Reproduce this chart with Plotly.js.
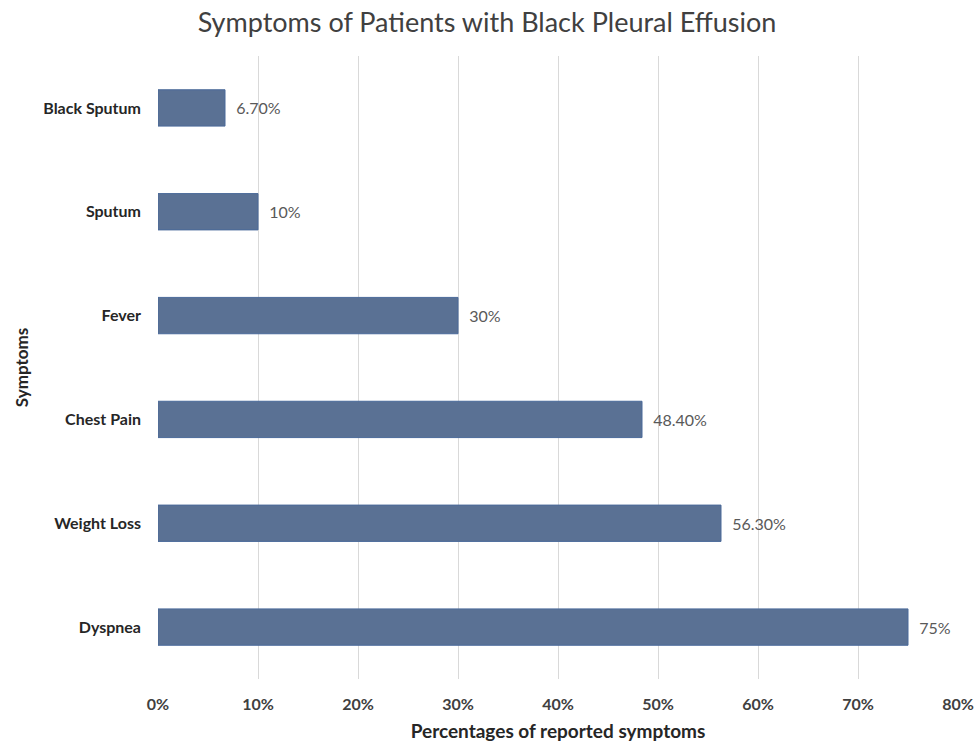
<!DOCTYPE html>
<html>
<head>
<meta charset="utf-8">
<script src="https://cdn.plot.ly/plotly-3.0.1.min.js"></script>
<style>html,body{margin:0;padding:0;background:#fff}#chart{width:974px;height:746px}</style>
</head>
<body>
<div id="chart"></div>
<script>
const categories = ["Dyspnea", "Weight Loss", "Chest Pain", "Fever", "Sputum", "Black Sputum"];
const values = [75, 56.3, 48.4, 30, 10, 6.7];
const valueLabels = ["75%", "56.30%", "48.40%", "30%", "10%", "6.70%"];
const tickValues = [0, 10, 20, 30, 40, 50, 60, 70, 80];
const tickLabels = ["0%", "10%", "20%", "30%", "40%", "50%", "60%", "70%", "80%"];

const fontFam = "Lato, 'Open Sans', 'Liberation Sans', sans-serif";

Plotly.newPlot('chart', [{
  type: 'bar',
  orientation: 'h',
  x: values,
  y: categories,
  text: valueLabels,
  texttemplate: '  %{text}',
  textposition: 'outside',
  cliponaxis: false,
  textfont: {family: fontFam, size: 16, color: '#595959'},
  marker: {color: '#5a7194', line: {color: '#4a6a9a', width: 1}},
  hoverinfo: 'none'
}], {
  width: 974, height: 746,
  margin: {l: 158, r: 16, t: 56, b: 67},
  paper_bgcolor: '#fff', plot_bgcolor: '#fff',
  bargap: 0.65,
  showlegend: false,
  title: {text: 'Symptoms of Patients with Black Pleural Effusion', x: 0.5, xanchor: 'center', y: 0.983, yanchor: 'top',
          font: {family: fontFam, size: 27, color: '#404040'}},
  xaxis: {
    range: [0, 80], tickvals: tickValues, ticktext: tickLabels,
    showgrid: true, gridcolor: '#d9d9d9', gridwidth: 1, zeroline: false,
    showline: false, ticks: '', ticklen: 0,
    ticklabelstandoff: 14,
    tickfont: {family: fontFam, size: 16, color: '#404040', weight: 'bold'},
    title: {text: 'Percentages of reported symptoms', standoff: 12,
            font: {family: fontFam, size: 19, color: '#262626', weight: 'bold'}},
    automargin: false,
    fixedrange: true
  },
  yaxis: {
    showgrid: false, zeroline: false, showline: false, ticks: '',
    ticklabelstandoff: 16,
    tickfont: {family: fontFam, size: 16, color: '#262626', weight: 'bold'},
    title: {text: 'Symptoms', standoff: 10, font: {family: fontFam, size: 17, color: '#262626', weight: 'bold'}},
    automargin: false,
    fixedrange: true
  }
}, {displayModeBar: false, staticPlot: true});
</script>
</body>
</html>
